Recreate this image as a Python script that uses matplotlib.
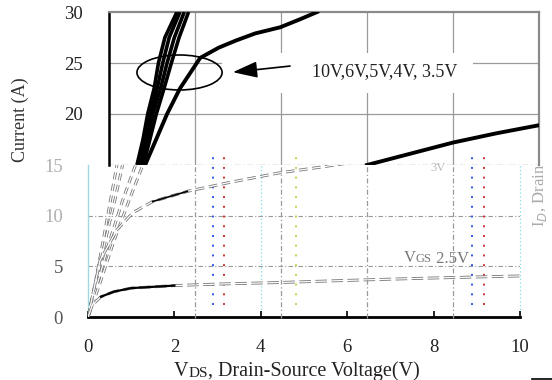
import matplotlib
matplotlib.use("Agg")
import matplotlib.pyplot as plt
from matplotlib.patches import Ellipse, Rectangle, ArrowStyle

plt.rcParams['font.family'] = ['Liberation Serif', 'DejaVu Serif']
plt.rcParams['axes.unicode_minus'] = False

# ---- axis ticks -------------------------------------------------------
x_ticks = [0, 2, 4, 6, 8, 10]
y_ticks_upper = [20, 25, 30]
y_ticks_lower = [0, 5, 10, 15]

# ---- upper panel (15-30 A): high gate drive curves ----------------------
steep_y = [15, 17.5, 20, 22.5, 25, 27.5, 30]
steep_x_10v = [0.65, 0.79, 0.90, 1.05, 1.15, 1.30, 1.58]
steep_x_6v = [0.70, 0.85, 0.97, 1.12, 1.25, 1.40, 1.65]
steep_x_5v = [0.74, 0.90, 1.02, 1.20, 1.35, 1.52, 1.75]
steep_x_4v = [0.80, 0.95, 1.10, 1.28, 1.45, 1.63, 1.85]

vgs35_x = [0.84, 1.35, 1.65, 2.12, 2.55, 2.95, 3.40, 3.98, 4.45, 4.84]
vgs35_y = [15.0, 20.0, 22.5, 25.5, 26.5, 27.2, 27.9, 28.5, 29.3, 30.0]

vgs3_up_x = [6.0, 7.0, 8.0, 9.0, 10.0]
vgs3_up_y = [15.0, 16.1, 17.2, 18.1, 18.9]

# ---- lower panel (0-15 A) ---------------------------------------------
low_steep_y = [0, 3, 7.5, 11.5, 15]
low_x_10v = [0, 0.15, 0.35, 0.52, 0.67]
low_x_6v = [0, 0.17, 0.40, 0.62, 0.80]
low_x_5v = [0, 0.20, 0.50, 0.80, 1.10]
low_x_4v = [0, 0.25, 0.60, 0.95, 1.27]

vgs3_lo_x = [0, 0.28, 0.67, 1.04, 1.5, 2.3, 3.3, 4.4, 5.4, 6.2]
vgs3_lo_y = [0, 5.6, 8.6, 10.3, 11.4, 12.4, 13.3, 14.2, 14.8, 15.3]

vgs25_x = [0, 0.1, 0.3, 0.6, 1.0, 2.0, 3.0, 4.4, 6.3, 8.0, 10.0]
vgs25_y = [0, 1.2, 2.0, 2.5, 2.85, 3.1, 3.25, 3.4, 3.65, 3.85, 4.05]

# scan-line streaks in the lower panel (lower-panel x positions)
streak_x = [2.89, 3.15, 4.81, 8.89, 9.17]
streak_colors = ['#3355ee', '#cc3333', '#c8d050', '#3355ee', '#cc3333']
cyan_x = [4.0, 10.0]

W, H = 552, 380
fig = plt.figure(figsize=(W / 100, H / 100), dpi=100)


def rect(l, t, r, b):
    return [l / W, 1 - b / H, (r - l) / W, (b - t) / H]


ax_lo = fig.add_axes(rect(88, 165, 520, 317))
ax_up = fig.add_axes(rect(109, 12, 539, 165))

# ================= lower panel =================
ax_lo.set_xlim(0, 10)
ax_lo.set_ylim(0, 15)
ax_lo.patch.set_alpha(0)
for s in ['top', 'right']:
    ax_lo.spines[s].set_visible(False)
ax_lo.spines['bottom'].set_linewidth(2.0)
ax_lo.spines['bottom'].set_color('black')
ax_lo.spines['left'].set_linewidth(1.0)
ax_lo.spines['left'].set_color('#9fd8e0')
ax_lo.set_xticks(x_ticks)
ax_lo.set_xticklabels([str(v) for v in x_ticks])
ax_lo.set_yticks(y_ticks_lower)
ax_lo.set_yticklabels([str(v) for v in y_ticks_lower])
ax_lo.tick_params(axis='x', direction='in', length=4, width=1.2,
                  pad=16, labelsize=13.5, labelcolor='#222')
ax_lo.tick_params(axis='y', length=0, pad=18, labelsize=13.5,
                  labelcolor='#555')
for lbl in ax_lo.get_yticklabels()[2:]:
    lbl.set_color('#b0b0b0')

for yv in [5, 10]:
    ax_lo.axhline(yv, color='#999', lw=0.8, ls=(0, (4, 2, 1, 2)), zorder=1)
for xv in cyan_x:
    ax_lo.plot([xv, xv], [0, 15], color='#7fe0ea', lw=0.9,
               ls=(0, (1, 2)), zorder=1, clip_on=False)
for xv, c in zip(streak_x, streak_colors):
    ax_lo.plot([xv, xv], [1.2, 15.8], color=c, lw=1.4,
               ls=(0, (1, 4)), zorder=1, clip_on=False)


def hollow(ax, xs, ys, dash):
    ax.plot(xs, ys, color='#777', lw=2.1, ls=dash, zorder=3,
            solid_capstyle='butt')
    ax.plot(xs, ys, color='white', lw=0.9, zorder=3)


for xs in [low_x_10v, low_x_6v, low_x_5v, low_x_4v]:
    hollow(ax_lo, xs, low_steep_y, (0, (2.5, 1.5)))
hollow(ax_lo, vgs3_lo_x, vgs3_lo_y, (0, (3, 1.5)))
hollow(ax_lo, vgs25_x, vgs25_y, (0, (4, 1.5)))
# darker stroke portions of the traces
ax_lo.plot(vgs25_x[2:6], vgs25_y[2:6], color='black', lw=1.6, zorder=4)
ax_lo.plot(vgs3_lo_x[4:6], vgs3_lo_y[4:6], color='black', lw=1.2, zorder=4)

ax_lo.text(8.1, 14.7, '3V', fontsize=9, color='#bbbbbb', ha='center',
           va='center')

# ================= upper panel =================
ax_up.set_xlim(0, 10)
ax_up.set_ylim(15, 30)
ax_up.patch.set_alpha(0)
ax_up.spines['bottom'].set_visible(False)
ax_up.spines['left'].set_linewidth(1.8)
ax_up.spines['left'].set_color('black')
ax_up.spines['top'].set_linewidth(1.6)
ax_up.spines['top'].set_color('#8a8a8a')
ax_up.spines['right'].set_linewidth(1.6)
ax_up.spines['right'].set_color('#8a8a8a')
ax_up.set_xticks([])
ax_up.set_yticks(y_ticks_upper)
ax_up.set_yticklabels([str(v) for v in y_ticks_upper])
ax_up.tick_params(axis='y', length=0, pad=19, labelsize=13.5,
                  labelcolor='#222')

for yv in [20, 25]:
    ax_up.axhline(yv, color='#9a9a9a', lw=0.9, zorder=1)
ax_up.axhline(15, color='#777', lw=0.9, ls=(0, (5, 2, 1, 2)), zorder=1)
for xv in [2, 4, 6, 8]:
    ax_up.plot([xv, xv], [15, 30], color='#9a9a9a', lw=0.9, zorder=1)
    ax_up.plot([xv, xv], [0, 15], color='#999', lw=0.9,
               ls=(0, (4, 2, 1, 2)), zorder=1, clip_on=False)

# white backing behind the callout
ax_up.add_patch(Rectangle((2.63, 22.06), 8.47 - 2.63, 25.98 - 22.06,
                          facecolor='white', edgecolor='none', zorder=2))

for xs in [steep_x_10v, steep_x_6v, steep_x_5v, steep_x_4v]:
    ax_up.plot(xs, steep_y, color='black', lw=2.6, zorder=4,
               solid_capstyle='butt')
ax_up.plot(vgs35_x, vgs35_y, color='black', lw=2.8, zorder=4)
ax_up.plot(vgs3_up_x, vgs3_up_y, color='black', lw=2.8, zorder=4)

ax_up.add_patch(Ellipse((1.64, 24.07), 1.98, 3.43, facecolor='none',
                        edgecolor='black', lw=1.2, zorder=5))
ax_up.annotate('', xy=(2.88, 24.1), xytext=(4.21, 24.7),
               arrowprops=dict(arrowstyle=ArrowStyle('-|>', head_length=0.75,
                                                     head_width=0.25),
                               mutation_scale=20, color='black', lw=1.2,
                               shrinkA=0, shrinkB=0), zorder=5)
ax_up.text(4.72, 24.2, '10V,6V,5V,4V, 3.5V', fontsize=13, ha='left',
           va='center', color='#222', zorder=5)


# ---- mixed-size labels (small-caps subscripts) -------------------------
def chain(x, y, pieces, color):
    first_txt, first_size = pieces[0]
    prev = fig.text(x, y, first_txt, fontsize=first_size, color=color,
                    ha='left', va='baseline')
    prev_size = first_size
    for txt, size in pieces[1:]:
        prev = fig.axes[0].annotate(txt, xy=(1, 0), xycoords=prev,
                                    xytext=(0, 0.215 * prev_size),
                                    textcoords='offset points',
                                    fontsize=size, color=color,
                                    ha='left', va='baseline',
                                    annotation_clip=False)
        prev_size = size
    return prev


chain(174 / W, 1 - 376 / H,
      [('V', 14.5), ('DS', 11), (', Drain-Source Voltage(V)', 14.5)],
      '#222')
chain(404 / W, 1 - 262 / H,
      [('V', 12), ('GS', 9), (' 2.5V', 12)], '#777')

fig.text(20 / W, 1 - 120 / H, 'Current (A)', rotation=90, fontsize=13,
         ha='center', va='center', color='#333')
fig.text(540 / W, 1 - 195 / H, 'I$_D$, Drain', rotation=90, fontsize=12,
         ha='center', va='center', color='#aaaaaa')

fig.add_artist(plt.Line2D([532 / W, 1], [1 / H, 1 / H], color='black',
                          lw=1.2, transform=fig.transFigure))

fig.savefig('out.png', dpi=100)
